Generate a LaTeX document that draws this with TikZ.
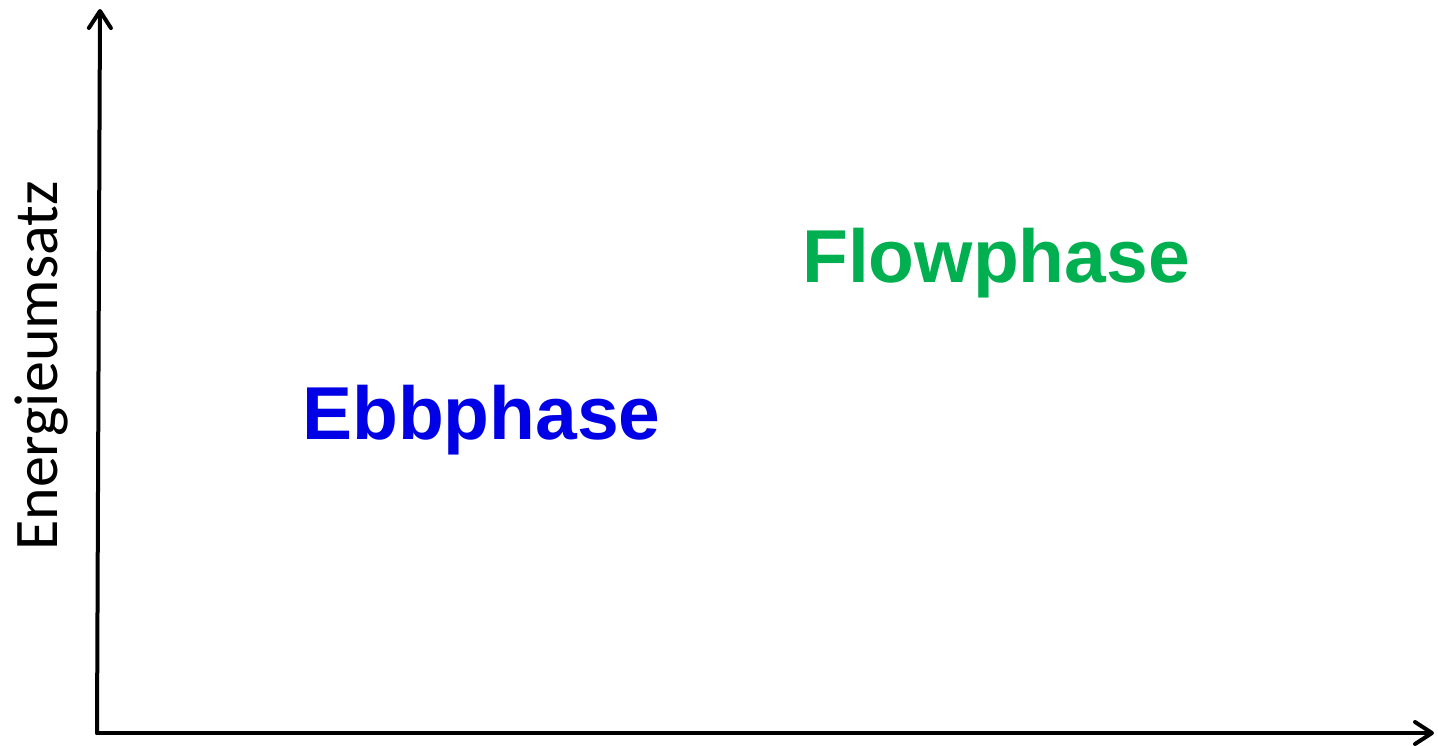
\documentclass[tikz,border=0pt]{standalone}
\usepackage{fontspec}
\setmainfont{Liberation Sans}
\newfontfamily\axisfont{Carlito}
\usetikzlibrary{arrows.meta}
\definecolor{flowgreen}{RGB}{0,176,80}
\definecolor{ebbblue}{RGB}{0,0,230}
\tikzset{
  axisline/.style={line width=4pt, line cap=round, -{Straight Barb[length=17pt,width=22pt,line cap=round,line join=round]}},
  phase/.style={font=\fontsize{75}{80}\selectfont\bfseries, inner sep=0pt, anchor=base west},
}
\begin{document}
\begin{tikzpicture}[x=1pt,y=-1pt]
\useasboundingbox (0,0) rectangle (1438,746);
\coordinate (o) at (97,733);
\coordinate (ytop) at (100,9);
\coordinate (xend) at (1434,733);
\draw[axisline] (o) -- (ytop);
\draw[axisline] (o) -- (xend);
\node[rotate=90, anchor=base, inner sep=0pt, font=\axisfont\fontsize{62}{66}\selectfont] (ylabel) at (57,366) {Energieumsatz};
\node[phase, text=flowgreen] (flow) at (802,282) {Flowphase};
\node[phase, text=ebbblue] (ebb) at (302,439) {Ebbphase};
\end{tikzpicture}
\end{document}
